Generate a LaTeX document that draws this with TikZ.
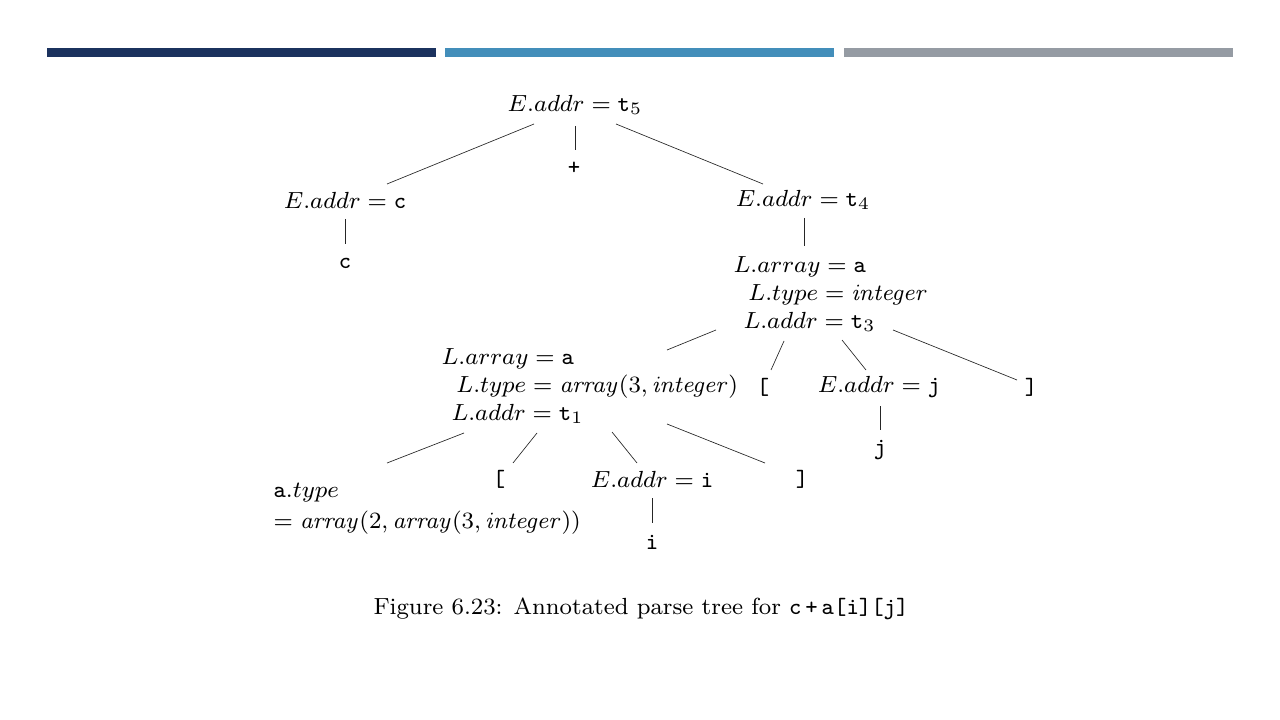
\documentclass[tikz,border=0pt]{standalone}
\usepackage{tikz}
\usetikzlibrary{calc,positioning}
\definecolor{barNavy}{HTML}{1B325E}
\definecolor{barBlue}{HTML}{438EBA}
\definecolor{barGray}{HTML}{959BA3}
\begin{document}
\begin{tikzpicture}[x=0.75pt,y=-0.75pt,
  lbl/.style={inner sep=0pt, font=\fontsize{8}{9.6}\selectfont, scale=2.1875, transform shape},
  multi/.style={lbl, anchor=west, align=left},
  edge/.style={line width=0.5pt, black!85}]
  \useasboundingbox (0,0) rectangle (1280,720);
  % header bars
  \fill[barNavy] (47,48) rectangle (436,57);
  \fill[barBlue] (445,48) rectangle (834,57);
  \fill[barGray] (844,48) rectangle (1233,57);

  % tree
  \node[lbl] (root) at (575,105) {$E.addr = \texttt{t}_5$};
  \node[lbl] (plus) at (574,168) {\texttt{+}};
  \node[lbl] (ec) at (345,200) {$E.addr = \texttt{c}$};
  \node[lbl] (cleaf) at (345,263) {\texttt{c}};
  \node[lbl] (et4) at (803,200) {$E.addr = \texttt{t}_4$};
  \node[multi] (L) at (733,294) {$L.array = \texttt{a}$\\
    \hspace*{5.1pt}$L.type = \mathit{integer}$\\
    \hspace*{3.4pt}$L.addr = \texttt{t}_3$};
  \node[multi] (larr) at (441,386) {$L.array = \texttt{a}$\\
    \hspace*{5.1pt}$L.type = \mathit{array}(3, \mathit{integer})$\\
    \hspace*{3.4pt}$L.addr = \texttt{t}_1$};
  \node[lbl] (lb1) at (763,387) {\texttt{[}};
  \node[lbl] (ej) at (879,387) {$E.addr = \texttt{j}$};
  \node[lbl] (rb1) at (1031,387) {\texttt{]}};
  \node[lbl] (jleaf) at (880,450) {\texttt{j}};
  \node[multi] (at) at (273,509) {$\texttt{a}.type$\\[1pt]
    $= \mathit{array}(2, \mathit{array}(3, \mathit{integer}))$};
  \node[lbl] (lb2) at (499,479) {\texttt{[}};
  \node[lbl] (ei) at (652,479) {$E.addr = \texttt{i}$};
  \node[lbl] (rb2) at (802,479) {\texttt{]}};
  \node[lbl] (ileaf) at (652,542) {\texttt{i}};

  \draw[edge] ($(root)+(-41,19)$) -- ($(ec)+(42,-16)$);
  \draw[edge] ($(root)+(0,21)$) -- ($(plus)+(1,-18)$);
  \draw[edge] ($(root)+(41,19)$) -- ($(et4)+(-40,-16)$);
  \draw[edge] ($(ec)+(0,19)$) -- ($(cleaf)+(0,-19)$);
  \draw[edge] ($(et4)+(1,18)$) -- ($(L.west)+(71,-48)$);
  \draw[edge] ($(L.west)+(-17,36)$) -- ($(larr.west)+(226,-36)$);
  \draw[edge] ($(L.west)+(51,47)$) -- ($(lb1)+(8,-17)$);
  \draw[edge] ($(L.west)+(109,46)$) -- ($(ej)+(-13,-17)$);
  \draw[edge] ($(L.west)+(160,36)$) -- ($(rb1)+(-14,-7)$);
  \draw[edge] ($(ej)+(1,19)$) -- ($(jleaf)+(0,-20)$);
  \draw[edge] ($(larr.west)+(23,47)$) -- ($(at.west)+(114,-46)$);
  \draw[edge] ($(larr.west)+(96,47)$) -- ($(lb2)+(14,-16)$);
  \draw[edge] ($(larr.west)+(171,46)$) -- ($(ei)+(-15,-16)$);
  \draw[edge] ($(larr.west)+(226,38)$) -- ($(rb2)+(-37,-16)$);
  \draw[edge] ($(ei)+(0,19)$) -- ($(ileaf)+(0,-19)$);

  % caption
  \node[lbl] (cap) at (641,609) {Figure 6.23: Annotated parse tree for \texttt{c\,+\,a[i][j]}};
\end{tikzpicture}
\end{document}
